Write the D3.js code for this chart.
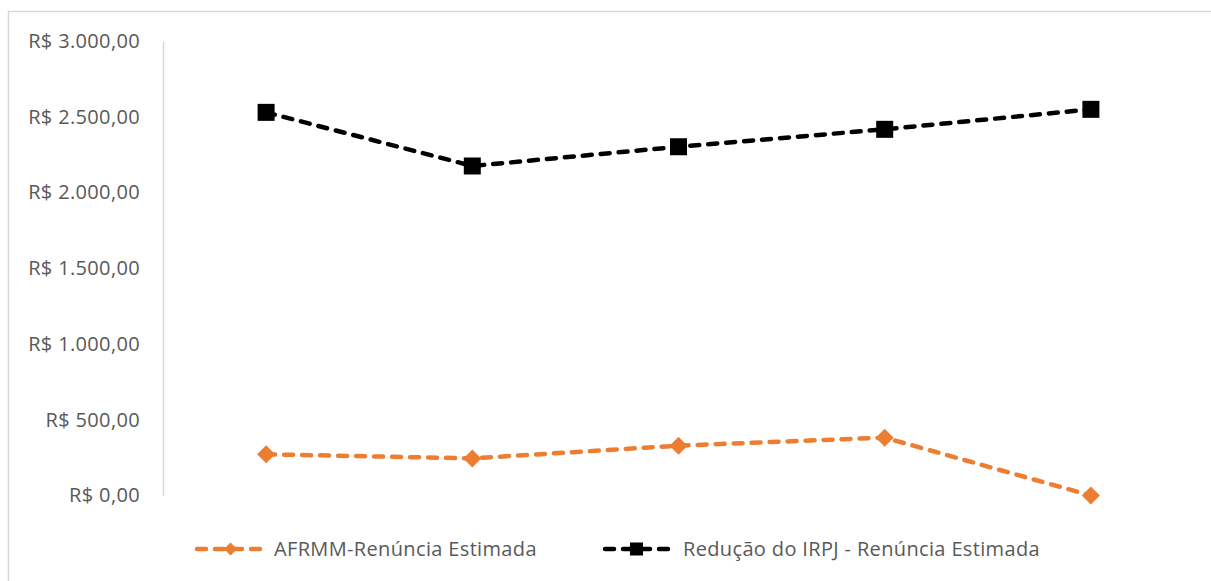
<!DOCTYPE html>
<html>
<head>
<meta charset="utf-8">
<script src="https://cdn.jsdelivr.net/npm/d3@7"></script>
<style>
  html, body { margin: 0; padding: 0; background: #fff; }
  svg { display: block; }
  text { font-family: "Open Sans", "Noto Sans", sans-serif; fill: #595959; }
</style>
</head>
<body>
<svg id="chart" width="1211" height="581"></svg>
<script>
// Periods along the horizontal axis (no labels are shown for them)
const periods = ["P1", "P2", "P3", "P4", "P5"];

// Estimated tax waiver, in R$
const afrmmValues = [272, 245, 329, 382, 0];
const irpjValues = [2529, 2175, 2302, 2417, 2549];

const seriesNames = ["AFRMM-Renúncia Estimada", "Redução do IRPJ - Renúncia Estimada"];
const yTicks = [0, 500, 1000, 1500, 2000, 2500, 3000];

const W = 1211, H = 581;
const FONT_SIZE = 20;
const LETTER_SP = 0.35;
const svg = d3.select("#chart");

// Outer chart frame
svg.append("rect")
  .attr("x", 8.5).attr("y", 11.5)
  .attr("width", W + 10).attr("height", H + 10)
  .attr("fill", "none").attr("stroke", "#d9d9d9").attr("stroke-width", 1.5);

const x = d3.scaleBand().domain(periods).range([163, 1194]);
const y = d3.scaleLinear().domain([0, 3000]).range([495.5, 41]);

const brl = v => "R$ " + d3.format(",.2f")(v).replace(/,/g, "#").replace(/\./g, ",").replace(/#/g, ".");

// Vertical axis: line plus currency labels
const yAxis = d3.axisLeft(y).tickValues(yTicks).tickSize(0).tickPadding(23).tickFormat(brl);
const gy = svg.append("g").attr("transform", "translate(163,0)").call(yAxis);
gy.select(".domain").attr("stroke", "#d9d9d9").attr("stroke-width", 1.5);
gy.selectAll("text")
  .attr("font-size", FONT_SIZE)
  .attr("letter-spacing", LETTER_SP)
  .attr("font-family", "'Open Sans', sans-serif")
  .attr("fill", "#595959");

const cx = p => x(p) + x.bandwidth() / 2;

const series = [
  { name: seriesNames[0], values: afrmmValues, color: "#ED7D31", shape: "diamond" },
  { name: seriesNames[1], values: irpjValues, color: "#000000", shape: "square" }
];

const line = d3.line().x((d, i) => cx(periods[i])).y(d => y(d));

function marker(g, shape, color, size) {
  if (shape === "square") {
    g.append("rect")
      .attr("x", -size / 2).attr("y", -size / 2)
      .attr("width", size).attr("height", size)
      .attr("fill", color);
  } else {
    const r = size / 2;
    g.append("path")
      .attr("d", `M0,${-r}L${r},0L0,${r}L${-r},0Z`)
      .attr("fill", color);
  }
}

series.forEach(s => {
  svg.append("path")
    .datum(s.values)
    .attr("d", line)
    .attr("fill", "none")
    .attr("stroke", s.color)
    .attr("stroke-width", 4.5)
    .attr("stroke-linecap", "round")
    .attr("stroke-dasharray", "9,9");
  s.values.forEach((v, i) => {
    const g = svg.append("g").attr("transform", `translate(${cx(periods[i])},${y(v)})`);
    marker(g, s.shape, s.color, s.shape === "square" ? 17 : 18);
  });
});

// Legend
const legendItems = [
  { s: series[0], x0: 197, x1: 264, tx: 274 },
  { s: series[1], x0: 605, x1: 668, tx: 683 }
];
const ly = 549;
legendItems.forEach(it => {
  const g = svg.append("g");
  g.append("line")
    .attr("x1", it.x0).attr("x2", it.x1).attr("y1", ly).attr("y2", ly)
    .attr("stroke", it.s.color).attr("stroke-width", 4.5)
    .attr("stroke-linecap", "round").attr("stroke-dasharray", "9,9");
  const m = g.append("g").attr("transform", `translate(${(it.x0 + it.x1) / 2},${ly})`);
  marker(m, it.s.shape, it.s.color, 13);
  g.append("text")
    .attr("x", it.tx).attr("y", ly)
    .attr("dy", "0.35em")
    .attr("font-size", FONT_SIZE)
    .attr("letter-spacing", LETTER_SP)
    .text(it.s.name);
});
</script>
</body>
</html>
